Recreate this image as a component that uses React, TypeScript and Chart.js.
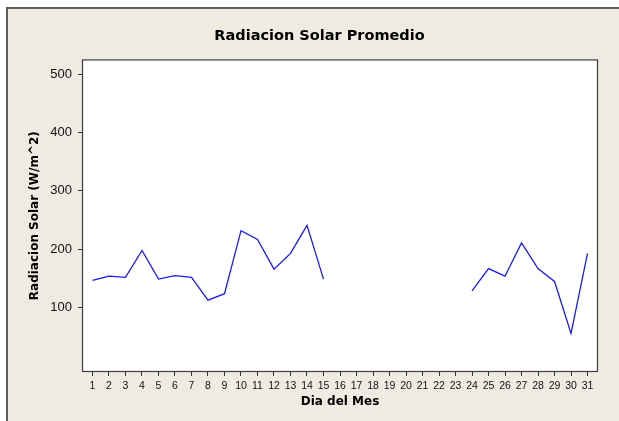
import React, { useEffect, useRef } from "react";
import { Chart, registerables } from "chart.js";

Chart.register(...registerables);

const days: number[] = Array.from({ length: 31 }, (_, i) => i + 1);
const radiation: (number | null)[] = [
  147, 154, 152, 198, 149, 155, 152, 113, 124, 232, 217, 166, 193, 241, 149,
  null, null, null, null, null, null, null, null,
  129, 167, 154, 211, 167, 145, 56, 193,
];
const yTicks: number[] = [100, 200, 300, 400, 500];

const chartTitle = "Radiacion Solar Promedio";
const xTitle = "Dia del Mes";
const yTitle = "Radiacion Solar (W/m^2)";

const plotFrame = {
  id: "plotFrame",
  beforeDraw(chart: any) {
    const { ctx, chartArea: a } = chart;
    ctx.save();
    ctx.fillStyle = "#ffffff";
    ctx.fillRect(a.left, a.top, a.right - a.left, a.bottom - a.top);
    ctx.restore();
  },
  afterDraw(chart: any) {
    const { ctx, chartArea: a } = chart;
    ctx.save();
    ctx.strokeStyle = "#3c3c3c";
    ctx.lineWidth = 1.2;
    ctx.strokeRect(a.left + 0.5, a.top + 0.5, a.right - a.left - 1, a.bottom - a.top - 1);
    ctx.restore();
  },
};

export default function App() {
  const ref = useRef<HTMLCanvasElement | null>(null);

  useEffect(() => {
    if (!ref.current) return;
    const chart = new Chart(ref.current, {
      type: "line",
      data: {
        datasets: [
          {
            data: days.map((d, i) => ({ x: d, y: radiation[i] })) as any,
            borderColor: "#1a1aff",
            borderWidth: 1.3,
            pointRadius: 0,
            spanGaps: false,
            fill: false,
            tension: 0,
            yAxisID: "y",
          },
        ],
      },
      options: {
        animation: false,
        responsive: false,
        devicePixelRatio: 1,
        layout: { padding: { left: 0, right: 0, top: 0, bottom: 0 } },
        plugins: {
          legend: { display: false },
          tooltip: { enabled: false },
          title: {
            display: true,
            text: chartTitle,
            color: "#000",
            font: { family: "DejaVu Sans", size: 14.5, weight: "bold" },
            padding: { top: 19, bottom: 14 },
          },
        },
        scales: {
          x: {
            type: "linear",
            min: 0.364,
            max: 31.636,
            afterBuildTicks: (s: any) => {
              s.ticks = days.map((v) => ({ value: v }));
            },
            afterFit: (s: any) => {
              s.height = 49;
            },
            ticks: {
              autoSkip: false,
              maxRotation: 0,
              color: "#111",
              padding: 4,
              font: { family: "Liberation Sans", size: 10.5 },
              callback: (v: any) => String(v),
            },
            grid: {
              drawOnChartArea: false,
              drawTicks: true,
              tickLength: 4,
              color: "#333",
            },
            border: { display: false },
            title: {
              display: true,
              text: xTitle,
              color: "#000",
              font: { family: "DejaVu Sans", size: 12, weight: "bold" },
              padding: { top: 0, bottom: 12 },
            },
          },
          y: {
            type: "linear",
            position: "left",
            min: -10,
            max: 525,
            afterBuildTicks: (s: any) => {
              s.ticks = yTicks.map((v) => ({ value: v }));
            },
            afterFit: (s: any) => {
              s.width = 74;
            },
            ticks: {
              color: "#111",
              padding: 6,
              font: { family: "Liberation Sans", size: 13 },
            },
            grid: {
              drawOnChartArea: false,
              drawTicks: true,
              tickLength: 4,
              color: "#333",
            },
            border: { display: false },
            title: {
              display: true,
              text: yTitle,
              color: "#000",
              font: { family: "DejaVu Sans", size: 12, weight: "bold" },
              padding: { top: 20, bottom: 0 },
            },
          },
          yRight: {
            type: "linear",
            position: "right",
            min: -10,
            max: 525,
            afterFit: (s: any) => {
              s.width = 33;
            },
            ticks: { display: false },
            grid: { display: false },
            border: { display: false },
          },
        },
      },
      plugins: [plotFrame],
    });
    return () => chart.destroy();
  }, []);

  return (
    <div
      style={{
        position: "fixed",
        left: 6,
        top: 7,
        width: 700,
        height: 500,
        background: "#efebe2",
        borderLeft: "2px solid #5c5c5c",
        borderTop: "2px solid #5c5c5c",
        overflow: "hidden",
      }}
    >
      <canvas ref={ref} width={623} height={412} style={{ display: "block", width: 623, height: 412 }} />
    </div>
  );
}
